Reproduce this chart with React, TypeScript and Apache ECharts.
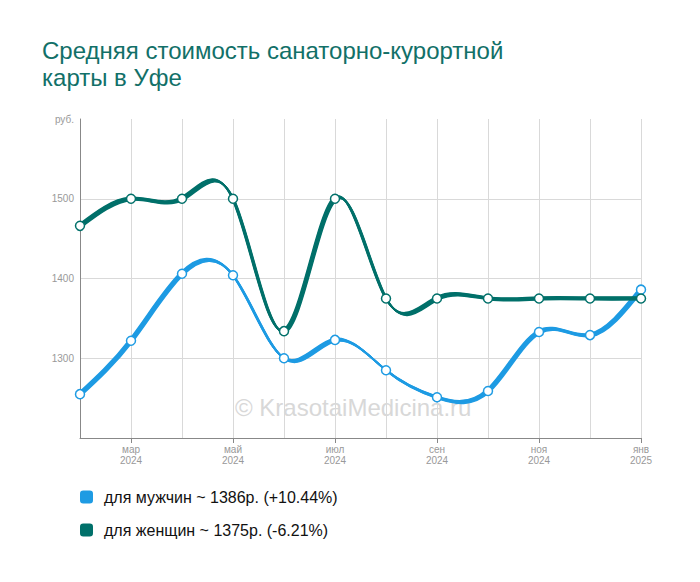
import React, { useEffect, useRef } from "react";
import * as echarts from "echarts";

const months = ["фев\n2024", "мар\n2024", "апр\n2024", "май\n2024", "июн\n2024", "июл\n2024", "авг\n2024", "сен\n2024", "окт\n2024", "ноя\n2024", "дек\n2024", "янв\n2025"];
const menValues = [1255, 1322, 1406, 1404, 1300, 1323, 1285, 1251, 1259, 1333, 1329, 1386];
const womenValues = [1466, 1500, 1500, 1500, 1334, 1500, 1375, 1375, 1375, 1375, 1375, 1375];
const seriesNames = ["для мужчин ~ 1386р. (+10.44%)", "для женщин ~ 1375р. (-6.21%)"];
const colors = ["#1e9be3", "#00706a"];
const titleText = "Средняя стоимость санаторно-курортной\nкарты в Уфе";
const watermark = "© KrasotaiMedicina.ru";

// natural cubic spline through pixel points -> SVG path data
function splinePath(pts: number[][]): string {
  const n = pts.length - 1;
  const h = pts[1][0] - pts[0][0];
  const y = pts.map((p) => p[1]);
  const M = new Array(n + 1).fill(0);
  if (n >= 2) {
    const a: number[] = [], b: number[] = [], c: number[] = [], d: number[] = [];
    for (let i = 1; i < n; i++) {
      a.push(1); b.push(4); c.push(1);
      d.push((6 * (y[i + 1] - 2 * y[i] + y[i - 1])) / (h * h));
    }
    const m = d.length;
    for (let i = 1; i < m; i++) {
      const w = a[i] / b[i - 1];
      b[i] -= w * c[i - 1];
      d[i] -= w * d[i - 1];
    }
    const sol = new Array(m).fill(0);
    sol[m - 1] = d[m - 1] / b[m - 1];
    for (let i = m - 2; i >= 0; i--) sol[i] = (d[i] - c[i] * sol[i + 1]) / b[i];
    for (let i = 1; i < n; i++) M[i] = sol[i - 1];
  }
  const der: number[] = [];
  for (let i = 0; i < n; i++) der.push((y[i + 1] - y[i]) / h - (h * (2 * M[i] + M[i + 1])) / 6);
  der.push((y[n] - y[n - 1]) / h + (h * (M[n - 1] + 2 * M[n])) / 6);
  let dStr = `M${pts[0][0]} ${pts[0][1]}`;
  for (let i = 0; i < n; i++) {
    const [x0, y0] = pts[i];
    const [x1, y1] = pts[i + 1];
    const hx = (x1 - x0) / 3;
    dStr += ` C${x0 + hx} ${y0 + der[i] * hx} ${x1 - hx} ${y1 - der[i + 1] * hx} ${x1} ${y1}`;
  }
  return dStr;
}

export default function App() {
  const ref = useRef<HTMLDivElement>(null);
  useEffect(() => {
    document.body.style.margin = "0";
    const chart = echarts.init(ref.current!, null, { renderer: "svg" });
    const font = "Arial, 'Liberation Sans', sans-serif";

    const curveSeries = (values: number[], color: string, z: number) => ({
      type: "custom",
      z,
      silent: true,
      data: values.map((v, i) => [i, v]),
      renderItem: (params: any, api: any) => {
        if (params.dataIndex !== 0) return null;
        const pts = values.map((v, i) => api.coord([i, v]));
        const d = splinePath(pts);
        const children: any[] = [];
        const steps = 6;
        for (let k = 0; k < steps; k++) {
          const t = k / (steps - 1);
          children.push({
            type: "path",
            x: t * 2.5 - 1.25,
            y: t * 2.5 - 1.25,
            shape: { pathData: d },
            style: { stroke: color, fill: "none", lineWidth: 1.8 },
          });
        }
        return { type: "group", children };
      },
    });

    const markerSeries = (name: string, data: number[], color: string, z: number) => ({
      name,
      type: "line",
      z,
      data,
      symbol: "circle",
      symbolSize: 9,
      color,
      lineStyle: { width: 0, opacity: 0 },
      itemStyle: { color: "#fff", borderColor: color, borderWidth: 1.5 },
    });

    chart.setOption({
      animation: false,
      title: {
        text: titleText,
        left: 42,
        top: 37,
        padding: 0,
        textStyle: { fontFamily: font, fontSize: 24, fontWeight: "normal", color: "#127068", lineHeight: 27 },
      },
      grid: { left: 80, right: 59, top: 119, bottom: 144, containLabel: false },
      legend: {
        orient: "vertical",
        left: 80,
        top: 489,
        padding: 0,
        itemWidth: 13,
        itemHeight: 13,
        itemGap: 17,
        icon: "roundRect",
        data: seriesNames.map((n, i) => ({ name: n, itemStyle: { color: colors[i], borderWidth: 0 } })),
        textStyle: { fontFamily: font, fontSize: 16, color: "#111", padding: [0, 0, 0, 6] },
      },
      xAxis: {
        type: "category",
        data: months,
        boundaryGap: false,
        axisLine: { lineStyle: { color: "#888" } },
        axisTick: { show: true, interval: (i: number) => i % 2 === 1, length: 5, lineStyle: { color: "#888" } },
        axisLabel: {
          interval: (i: number) => i % 2 === 1,
          color: "#999",
          fontFamily: font,
          fontSize: 10,
          lineHeight: 11,
          margin: 6,
        },
        splitLine: { show: true, interval: 0, lineStyle: { color: "#d9d9d9" } },
      },
      yAxis: {
        type: "value",
        min: 1200,
        max: 1600,
        interval: 100,
        axisLine: { show: true, lineStyle: { color: "#888" } },
        axisTick: { show: false },
        axisLabel: {
          color: "#999",
          fontFamily: font,
          fontSize: 10,
          margin: 6,
          formatter: (v: number) => (v === 1600 ? "руб." : v === 1200 ? "" : String(v)),
        },
        splitLine: { show: true, lineStyle: { color: ["transparent", "#d9d9d9", "#d9d9d9", "#d9d9d9", "transparent"] } },
      },
      graphic: [
        {
          type: "text",
          left: 235,
          top: 395,
          z: 0,
          style: { text: watermark, fontFamily: font, fontSize: 24, fill: "#d8d8d8" },
        },
      ],
      series: [
        curveSeries(menValues, colors[0], 2),
        markerSeries(seriesNames[0], menValues, colors[0], 3),
        curveSeries(womenValues, colors[1], 4),
        markerSeries(seriesNames[1], womenValues, colors[1], 5),
      ],
    });
    return () => chart.dispose();
  }, []);
  return <div ref={ref} style={{ width: 700, height: 582 }} />;
}
